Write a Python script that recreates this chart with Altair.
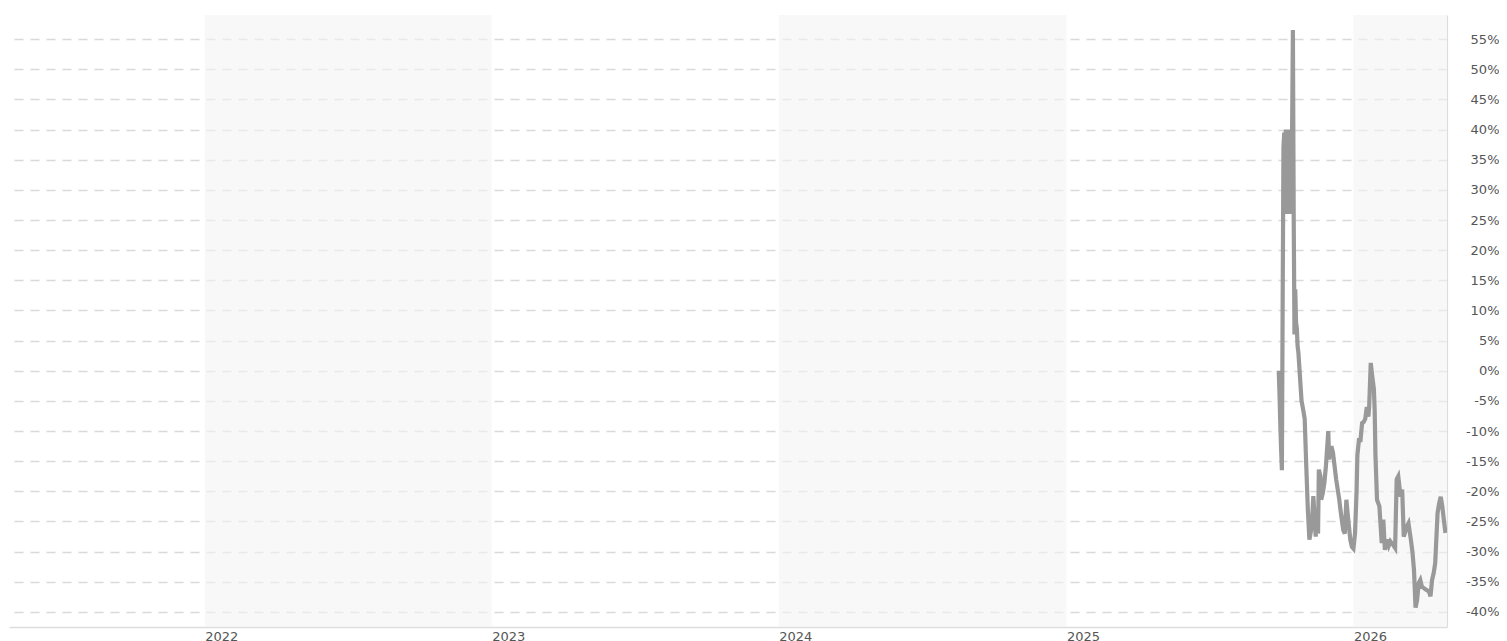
import altair as alt
import pandas as pd

# ---- data ----
dates = [
    "2025-09-28", "2025-09-29", "2025-09-30", "2025-10-01", "2025-10-02", "2025-10-03",
    "2025-10-04", "2025-10-05", "2025-10-06", "2025-10-07", "2025-10-08", "2025-10-09",
    "2025-10-10", "2025-10-11", "2025-10-12", "2025-10-13", "2025-10-14", "2025-10-15",
    "2025-10-16", "2025-10-17", "2025-10-18", "2025-10-19", "2025-10-20", "2025-10-21",
    "2025-10-22", "2025-10-23", "2025-10-25", "2025-10-27", "2025-10-29", "2025-10-31",
    "2025-11-02", "2025-11-04", "2025-11-06", "2025-11-09", "2025-11-11", "2025-11-12",
    "2025-11-14", "2025-11-15", "2025-11-17", "2025-11-18", "2025-11-20", "2025-11-21",
    "2025-11-23", "2025-11-25", "2025-11-27", "2025-11-30", "2025-12-01", "2025-12-02",
    "2025-12-04", "2025-12-06", "2025-12-08", "2025-12-10", "2025-12-12", "2025-12-14",
    "2025-12-16", "2025-12-19", "2025-12-21", "2025-12-23", "2025-12-25", "2025-12-28",
    "2025-12-30", "2026-01-01", "2026-01-03", "2026-01-05", "2026-01-06", "2026-01-08",
    "2026-01-10", "2026-01-12", "2026-01-14", "2026-01-16", "2026-01-18", "2026-01-20",
    "2026-01-21", "2026-01-23", "2026-01-25", "2026-01-27", "2026-01-28", "2026-01-29",
    "2026-01-31", "2026-02-03", "2026-02-06", "2026-02-08", "2026-02-10", "2026-02-13",
    "2026-02-15", "2026-02-17", "2026-02-21", "2026-02-23", "2026-02-25", "2026-02-27",
    "2026-03-02", "2026-03-04", "2026-03-06", "2026-03-10", "2026-03-12", "2026-03-15",
    "2026-03-17", "2026-03-19", "2026-03-21", "2026-03-23", "2026-03-25", "2026-03-27",
    "2026-03-29", "2026-04-03", "2026-04-07", "2026-04-09", "2026-04-11", "2026-04-13",
    "2026-04-15", "2026-04-18", "2026-04-20", "2026-04-22", "2026-04-24", "2026-04-26",
    "2026-04-28",
]
values = [
    0, -4, -9, -13, -16.5, 12,
    37, 39.5, 26, 40, 26, 40,
    27, 40, 26, 40, 26.5, 40,
    56.5, 26, 6, 13.5, 8, 7,
    4, 3, -1, -5, -6.4, -8,
    -15.8, -23, -28, -25.8, -20.8, -23,
    -27.5, -25.5, -27, -16.4, -17.5, -21.4,
    -20.3, -18.6, -15.8, -10, -14.7, -13.6,
    -12.5, -13.6, -15.8, -18, -19.7, -21.4,
    -23.6, -26.4, -27, -21.4, -24.2, -28,
    -29.2, -29.5, -27, -20, -14, -11.5,
    -11.5, -8.7, -8.5, -8, -6, -7.6,
    -6, 1.3, -1, -3, -6.5, -14,
    -21.4, -22.5, -28.6, -24.7, -29.7, -28,
    -29, -28.3, -29, -29.4, -18, -17.5,
    -20.9, -19.7, -27.5, -25.8, -25.3, -28,
    -30, -33, -39.3, -38, -35.2, -34.7,
    -35.8, -36.3, -36.6, -37.4, -34.7, -33.6,
    -31.9, -23.6, -22, -20.9, -22.5, -24.7,
    -26.9,
]
band_starts = ["2022-01-01", "2024-01-01", "2026-01-01"]
band_ends = ["2023-01-01", "2025-01-01", "2027-01-01"]
year_ticks = [2022, 2023, 2024, 2025, 2026]
pct_ticks = [-40, -35, -30, -25, -20, -15, -10, -5, 0, 5, 10, 15, 20, 25, 30, 35, 40, 45, 50, 55]

W, H = 1438, 612

df = pd.DataFrame({"date": dates, "value": values})
bands = pd.DataFrame({"start": band_starts, "end": band_ends})

x_scale = alt.Scale(
    type="utc",
    domain=[alt.DateTime(year=2021, month=4, date=27, utc=True),
            alt.DateTime(year=2026, month=4, date=30, utc=True)],
)
y_scale = alt.Scale(domain=[-42.5, 59], nice=False, zero=False)

x_axis = alt.Axis(
    values=[alt.DateTime(year=y, month=1, date=1, utc=True) for y in year_ticks],
    format="%Y",
    formatType="utc",
    ticks=False,
    grid=False,
    domainColor="#dddddd",
    domainWidth=1.5,
    labelAlign="left",
    labelBaseline="top",
    labelPadding=3,
    labelFont="DejaVu Sans",
    labelFontSize=13,
    labelColor="#555555",
    labelFlush=False,
    labelOverlap=False,
    title=None,
)

band_layer = alt.Chart(bands).mark_rect(
    fill="#f4f4f4", opacity=0.6, clip=True
).encode(
    x=alt.X("start:T", scale=x_scale, axis=x_axis),
    x2="end:T",
    y=alt.value(0),
    y2=alt.value(H),
)

line_layer = alt.Chart(df).mark_line(
    color="#999999", strokeWidth=4.2, clip=True
).encode(
    x=alt.X("date:T", scale=x_scale, axis=x_axis),
    y=alt.Y(
        "value:Q",
        scale=y_scale,
        axis=alt.Axis(
            orient="right",
            values=pct_ticks,
            labelExpr="datum.value + '%'",
            ticks=False,
            grid=True,
            gridColor="#d9d9d9",
            gridDash=[9, 7],
            gridWidth=1.4,
            domainColor="#dddddd",
            domainWidth=1.2,
            labelAlign="right",
            labelBaseline="middle",
            labelPadding=52,
            labelFont="DejaVu Sans",
            labelFontSize=13,
            labelColor="#555555",
            labelFlush=False,
            labelOverlap=False,
            title=None,
        ),
    ),
)

chart = alt.layer(band_layer, line_layer).properties(
    width=W,
    height=H,
    background="white",
    autosize=alt.AutoSizeParams(type="none"),
    padding={"left": 1, "top": 7, "right": 52, "bottom": 20},
).configure_view(strokeWidth=0, stroke="transparent")

chart.save("out.html", embed_options={"renderer": "svg", "actions": False})
